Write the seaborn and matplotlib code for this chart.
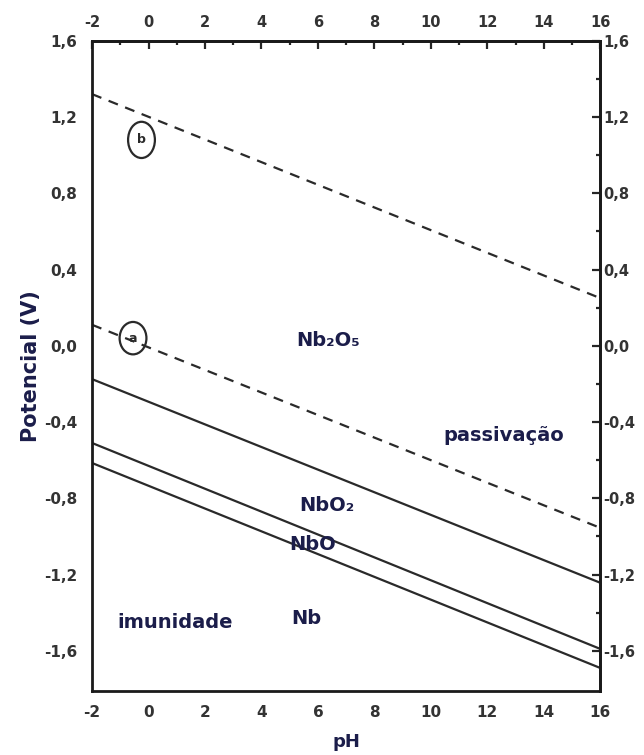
import matplotlib
matplotlib.use("Agg")
import matplotlib.pyplot as plt
import seaborn as sns
import pandas as pd
from matplotlib.patches import Ellipse
from matplotlib.ticker import FixedLocator, FuncFormatter

# equilibrium lines (potential at pH -2 and pH 16)
ph_ends = [-2, 16]
line_b = [1.32, 0.25]       # O2 / H2O
line_a = [0.11, -0.955]     # H+ / H2
nb2o5_nbo2 = [-0.175, -1.243]
nbo2_nbo = [-0.51, -1.59]
nbo_nb = [-0.615, -1.69]

region_labels = ["Nb₂O₅", "passivação", "NbO₂", "NbO", "Nb", "imunidade"]
region_x = [6.35, 12.6, 6.3, 5.8, 5.6, 0.95]
region_y = [0.03, -0.47, -0.84, -1.04, -1.43, -1.45]

x_major = [-2, 0, 2, 4, 6, 8, 10, 12, 14, 16]
x_minor = [-1, 1, 3, 5, 7, 9, 11, 13, 15]
y_major = [1.6, 1.2, 0.8, 0.4, 0.0, -0.4, -0.8, -1.2, -1.6]
y_minor = [1.4, 1.0, 0.6, 0.2, -0.2, -0.6, -1.0, -1.4]

sns.set_style("white")
plt.rcParams['font.family'] = ['DejaVu Sans']

fig = plt.figure(figsize=(6.44, 7.55), dpi=100)
ax = fig.add_axes([0.143, 0.085, 0.789, 0.861])

ink = "#1a1a1a"
label_col = "#1b1d4a"
tick_col = "#333333"

df = pd.DataFrame({"pH": ph_ends * 5,
                   "E": line_b + line_a + nb2o5_nbo2 + nbo2_nbo + nbo_nb,
                   "linha": ["b"] * 2 + ["a"] * 2 + ["s1"] * 2 + ["s2"] * 2 + ["s3"] * 2})
for name, d in df.groupby("linha"):
    dashed = name in ("a", "b")
    sns.lineplot(data=d, x="pH", y="E", ax=ax, color="#2a2a2a", lw=1.6,
                 linestyle=(0, (4.5, 3.5)) if dashed else "-")

ax.set_xlim(-2, 16)
ax.set_ylim(-1.81, 1.6)

fmt = FuncFormatter(lambda v, p: f"{v:.1f}".replace(".", ",").replace("-0,0", "0,0"))
xfmt = FuncFormatter(lambda v, p: f"{v:.0f}")

def set_ticks(axis, major, minor, formatter):
    axis.set_major_locator(FixedLocator(major))
    axis.set_minor_locator(FixedLocator(minor))
    axis.set_major_formatter(formatter)

set_ticks(ax.xaxis, x_major, x_minor, xfmt)
set_ticks(ax.yaxis, y_major, y_minor, fmt)
ax.tick_params(which="major", direction="inout", length=11, width=1.8, labelsize=11,
               labelcolor=tick_col, pad=5)
ax.tick_params(which="minor", direction="inout", length=6, width=1.8)
for lab in ax.get_xticklabels() + ax.get_yticklabels():
    lab.set_fontweight("bold")

top = ax.secondary_xaxis("top")
set_ticks(top.xaxis, x_major, x_minor, xfmt)
top.tick_params(which="major", direction="in", length=6, width=1.6, labelsize=10.5,
                labelcolor=tick_col, pad=8)
top.tick_params(which="minor", direction="in", length=3, width=1.6)
right = ax.secondary_yaxis("right")
set_ticks(right.yaxis, y_major, y_minor, fmt)
right.tick_params(which="major", direction="in", length=6, width=1.6, labelsize=10.5,
                  labelcolor=tick_col, pad=2.5)
right.tick_params(which="minor", direction="in", length=3, width=1.6)
for lab in top.get_xticklabels() + right.get_yticklabels():
    lab.set_fontweight("bold")
for sec in (top, right):
    for sp in sec.spines.values():
        sp.set_linewidth(2)
        sp.set_color(ink)

for sp in ax.spines.values():
    sp.set_linewidth(2)
    sp.set_color(ink)

ax.set_xlabel("pH", fontsize=13, fontweight="bold", color=label_col, labelpad=9)
ax.set_ylabel("Potencial (V)", fontsize=15, fontweight="bold", color=label_col, labelpad=2)

for t, x, y in zip(region_labels, region_x, region_y):
    ax.text(x, y, t, fontsize=14, fontweight="bold", color=label_col,
            ha="center", va="center")

# circled markers a and b
for lab, x, y, h in [("b", -0.25, 1.08, 0.19), ("a", -0.55, 0.04, 0.17)]:
    ax.add_patch(Ellipse((x, y), 0.95, h, fill=False, lw=1.6, ec="#2a2a2a"))
    ax.text(x, y, lab, fontsize=9, fontweight="bold", color="#2a2a2a",
            ha="center", va="center")

fig.savefig("out.png", dpi=100)
